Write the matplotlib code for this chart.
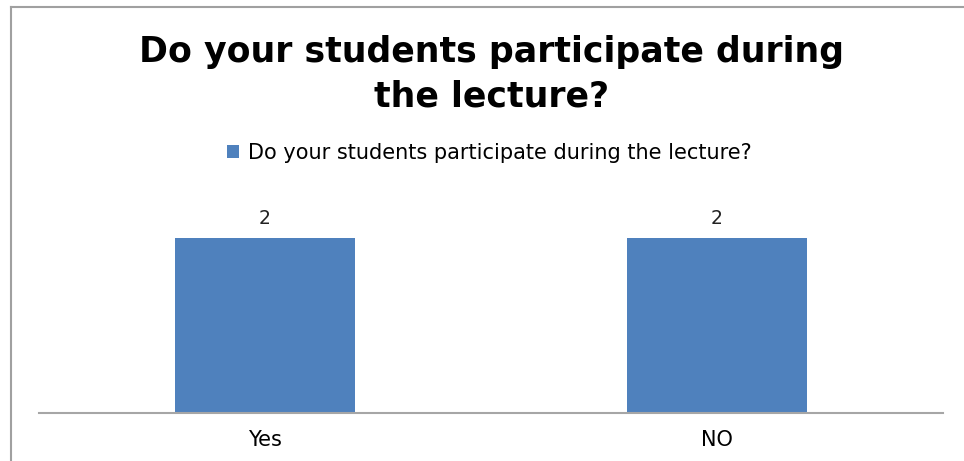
import matplotlib.pyplot as plt
from matplotlib.lines import Line2D

categories = ["Yes", "NO"]
values = [2, 2]
series_name = "Do your students participate during the lecture?"
title = "Do your students participate during\nthe lecture?"

fig = plt.figure(figsize=(9.64, 4.61), dpi=100)
ax = fig.add_axes([39 / 964, 48 / 461, 904 / 964, 219 / 461])

x = range(len(categories))
bars = ax.bar(x, values, width=0.4, color="#4f81bd", label=series_name)
for b, v in zip(bars, values):
	ax.text(b.get_x() + b.get_width() / 2, v + 0.11, str(v), ha="center", va="bottom",
		fontsize=13.5, family="DejaVu Sans", color="#222222")

ax.set_xlim(-0.5, 1.5)
ax.set_ylim(0, 2.5)
ax.set_xticks(list(x))
ax.set_xticklabels(categories, fontsize=15, family="DejaVu Sans")
ax.tick_params(axis="x", length=0, pad=12)
ax.set_yticks([])
for s in ["top", "right", "left"]:
	ax.spines[s].set_visible(False)
ax.spines["bottom"].set_color("#a6a6a6")
ax.spines["bottom"].set_linewidth(1.5)

fig.text(0.51, 1 - 74 / 461, title, ha="center", va="center", fontsize=25, fontweight="bold",
	family="DejaVu Sans", linespacing=1.38)

leg = fig.legend(loc="center", bbox_to_anchor=(0.508, 1 - 153 / 461), frameon=False,
	prop={"family": "DejaVu Sans", "size": 15}, handlelength=0.55, handleheight=0.55,
	handletextpad=0.45)

# outer frame lines (top and left)
fig.add_artist(Line2D([11 / 964, 1], [1 - 7 / 461, 1 - 7 / 461], transform=fig.transFigure,
	color="#a0a0a0", linewidth=1.5))
fig.add_artist(Line2D([11 / 964, 11 / 964], [0, 1 - 7 / 461], transform=fig.transFigure,
	color="#a0a0a0", linewidth=1.5))

plt.savefig("out.png", dpi=100)
